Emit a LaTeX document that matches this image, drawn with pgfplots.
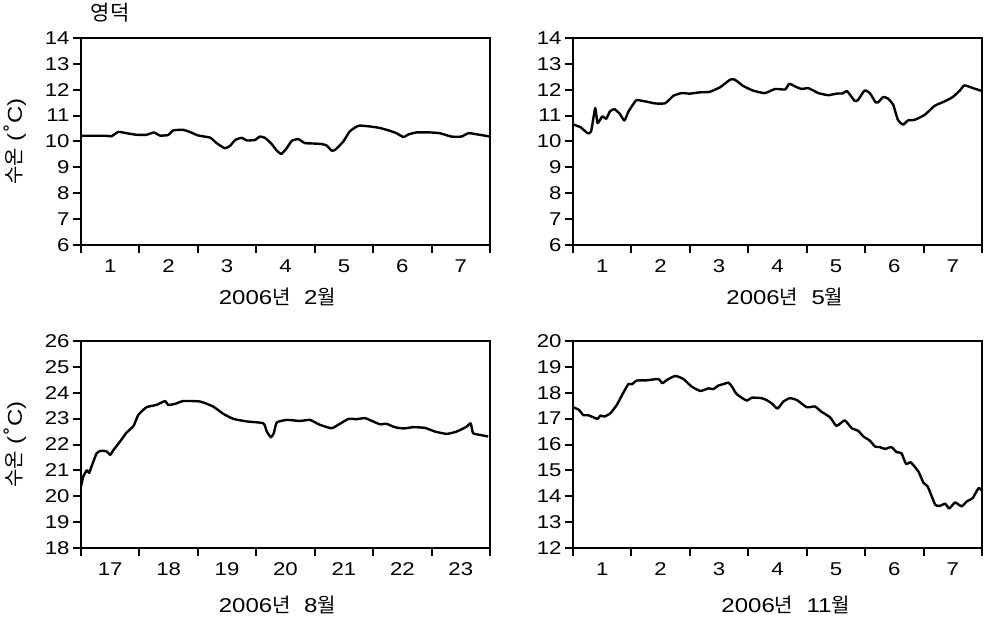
\documentclass[border=0pt]{standalone}
\usepackage{fontspec}
\setmainfont{Liberation Sans}[FakeStretch=1.2]
\newfontfamily\kr{Noto Sans CJK KR}
\newfontfamily\dv{DejaVu Sans}
\usepackage{pgfplots}
\pgfplotsset{compat=1.18}
\newcommand{\ylab}{{\kr 수온} ({\dv ˚}C)}
\pgfplotsset{
  panel/.style={
    scale only axis, width=409pt, height=207pt,
    anchor=south west,
    xmin=0, xmax=7,
    xtick={0,...,7},
    x tick label as interval,
    tick align=outside,
    xtick pos=bottom, ytick pos=left,
    major tick length=8pt,
    axis line style={line width=2pt},
    every tick/.style={line width=2pt, black},
    /pgf/number format/assume math mode=true,
    tick label style={font=\fontsize{18.5}{21}\selectfont},
    label style={font=\fontsize{20}{23}\selectfont},
    xticklabel style={yshift=-3pt},
    ylabel style={at={(axis description cs:-0.161,0.5)}, anchor=center},
  },
  lx/.style={xlabel style={at={(axis description cs:#1,0)}, anchor=center, yshift=-52pt}},
  lxb/.style={xlabel style={at={(axis description cs:#1,0)}, anchor=center, yshift=-57pt}},
  curve/.style={black, line width=2.4pt, line join=round, mark=none, smooth, tension=0.3},
}
\begin{document}
\begin{tikzpicture}
\path[use as bounding box] (0,0) rectangle (984pt,618pt);
% Panel 1: Feb
\begin{axis}[panel, name=p1, at={(81pt,373pt)}, lx=0.48,
  ymin=6, ymax=14, ytick={6,...,14},
  xticklabels={1,2,3,4,5,6,7,},
  xlabel={2006{\kr 년}\ \ 2{\kr 월}},
  ylabel={\ylab}]
\addplot[curve] coordinates {
(0,10.22)(0.44,10.22)(0.52,10.2)(0.64,10.37)(0.78,10.32)(0.95,10.26)(1.12,10.26)
(1.25,10.35)(1.35,10.23)(1.49,10.25)(1.58,10.43)(1.75,10.45)(1.87,10.36)(2.01,10.23)
(2.21,10.15)(2.32,9.94)(2.46,9.74)(2.55,9.83)(2.64,10.06)(2.75,10.14)(2.84,10.04)
(2.98,10.06)(3.06,10.19)(3.15,10.14)(3.26,9.91)(3.35,9.65)(3.43,9.52)(3.52,9.74)
(3.61,10.03)(3.72,10.09)(3.83,9.94)(4.0,9.92)(4.12,9.9)(4.2,9.85)(4.29,9.65)
(4.35,9.68)(4.49,10.0)(4.6,10.39)(4.75,10.61)(4.95,10.58)(5.12,10.52)(5.29,10.41)
(5.4,10.32)(5.52,10.17)(5.6,10.27)(5.74,10.35)(5.97,10.35)(6.14,10.32)(6.34,10.19)
(6.51,10.19)(6.63,10.32)(6.77,10.28)(7.0,10.19)};
\end{axis}
\node[anchor=center, font=\kr\fontsize{21}{24}\selectfont, inner sep=0pt] at ([xshift=29pt,yshift=25pt]p1.north west) {영덕};
% Panel 2: May
\begin{axis}[panel, at={(573pt,373pt)}, lx=0.518,
  ymin=6, ymax=14, ytick={6,...,14},
  xticklabels={1,2,3,4,5,6,7,},
  xlabel={2006{\kr 년}\ \ 5{\kr 월}}]
\addplot[curve] coordinates {
(0.01,10.65)(0.13,10.55)(0.25,10.32)(0.31,10.39)(0.38,11.29)(0.42,10.71)(0.5,10.97)
(0.57,10.88)(0.63,11.16)(0.71,11.25)(0.8,11.07)(0.88,10.81)(0.95,11.16)(1.08,11.59)
(1.18,11.57)(1.26,11.54)(1.41,11.47)(1.58,11.48)(1.72,11.77)(1.86,11.87)(2.0,11.85)
(2.17,11.9)(2.34,11.92)(2.52,12.1)(2.69,12.39)(2.77,12.39)(2.91,12.15)(3.08,11.97)
(3.28,11.87)(3.46,12.03)(3.63,12.01)(3.7,12.23)(3.8,12.13)(3.91,12.03)(4.03,12.06)
(4.2,11.87)(4.37,11.79)(4.51,11.85)(4.62,11.86)(4.69,11.95)(4.82,11.57)(4.88,11.61)
(4.99,11.97)(5.08,11.87)(5.18,11.51)(5.22,11.51)(5.31,11.72)(5.39,11.66)(5.48,11.42)
(5.56,10.84)(5.65,10.65)(5.73,10.81)(5.85,10.84)(6.02,11.03)(6.19,11.38)(6.36,11.55)
(6.5,11.72)(6.62,11.97)(6.7,12.17)(6.85,12.06)(7.0,11.95)};
\end{axis}
% Panel 3: Aug
\begin{axis}[panel, at={(81pt,70pt)}, lxb=0.48,
  ymin=18, ymax=26, ytick={18,...,26},
  xticklabels={17,18,19,20,21,22,23,},
  xlabel={2006{\kr 년}\ \ 8{\kr 월}},
  ylabel={\ylab}]
\addplot[curve] coordinates {
(0,20.38)(0.04,20.77)(0.1,21.0)(0.14,20.9)(0.18,21.15)(0.27,21.67)(0.35,21.76)
(0.44,21.73)(0.5,21.6)(0.55,21.77)(0.67,22.12)(0.78,22.46)(0.9,22.72)(0.98,23.14)
(1.12,23.44)(1.29,23.53)(1.44,23.68)(1.49,23.53)(1.61,23.57)(1.75,23.68)(2.04,23.66)
(2.26,23.47)(2.44,23.18)(2.61,22.99)(2.84,22.89)(3.12,22.82)(3.18,22.5)(3.25,22.28)
(3.3,22.44)(3.35,22.85)(3.52,22.95)(3.75,22.91)(3.92,22.95)(4.09,22.76)(4.29,22.63)
(4.43,22.8)(4.58,22.99)(4.72,22.98)(4.86,23.02)(5.0,22.89)(5.12,22.78)(5.23,22.8)
(5.37,22.67)(5.52,22.62)(5.69,22.67)(5.89,22.64)(6.06,22.5)(6.26,22.41)(6.43,22.5)
(6.6,22.69)(6.67,22.82)(6.71,22.44)(6.83,22.37)(6.97,22.31)};
\end{axis}
% Panel 4: Nov
\begin{axis}[panel, at={(573pt,70pt)}, lxb=0.52,
  ymin=12, ymax=20, ytick={12,...,20},
  xticklabels={1,2,3,4,5,6,7,},
  xlabel={2006{\kr 년}\ \ 11{\kr 월}}]
\addplot[curve] coordinates {
(0,17.44)(0.1,17.34)(0.18,17.13)(0.25,17.14)(0.35,17.05)(0.42,16.99)(0.47,17.12)
(0.54,17.08)(0.64,17.21)(0.75,17.53)(0.87,18.04)(0.95,18.34)(1.01,18.33)(1.09,18.47)
(1.26,18.48)(1.46,18.53)(1.53,18.37)(1.61,18.5)(1.75,18.65)(1.89,18.53)(2.03,18.24)
(2.18,18.07)(2.32,18.17)(2.4,18.14)(2.49,18.28)(2.57,18.33)(2.66,18.39)(2.72,18.24)
(2.8,17.95)(2.97,17.7)(3.06,17.81)(3.23,17.79)(3.31,17.72)(3.4,17.59)(3.5,17.39)
(3.6,17.66)(3.71,17.79)(3.83,17.72)(4.0,17.44)(4.14,17.47)(4.25,17.27)(4.4,17.05)
(4.51,16.72)(4.65,16.93)(4.77,16.63)(4.88,16.53)(4.97,16.31)(5.08,16.15)(5.17,15.92)
(5.25,15.9)(5.34,15.83)(5.45,15.9)(5.54,15.7)(5.62,15.67)(5.7,15.25)(5.78,15.31)
(5.91,14.96)(6.0,14.51)(6.07,14.38)(6.2,13.67)(6.28,13.63)(6.37,13.71)(6.44,13.53)
(6.54,13.76)(6.65,13.61)(6.74,13.8)(6.84,13.93)(6.94,14.31)(7.0,14.22)};
\end{axis}
\end{tikzpicture}
\end{document}
